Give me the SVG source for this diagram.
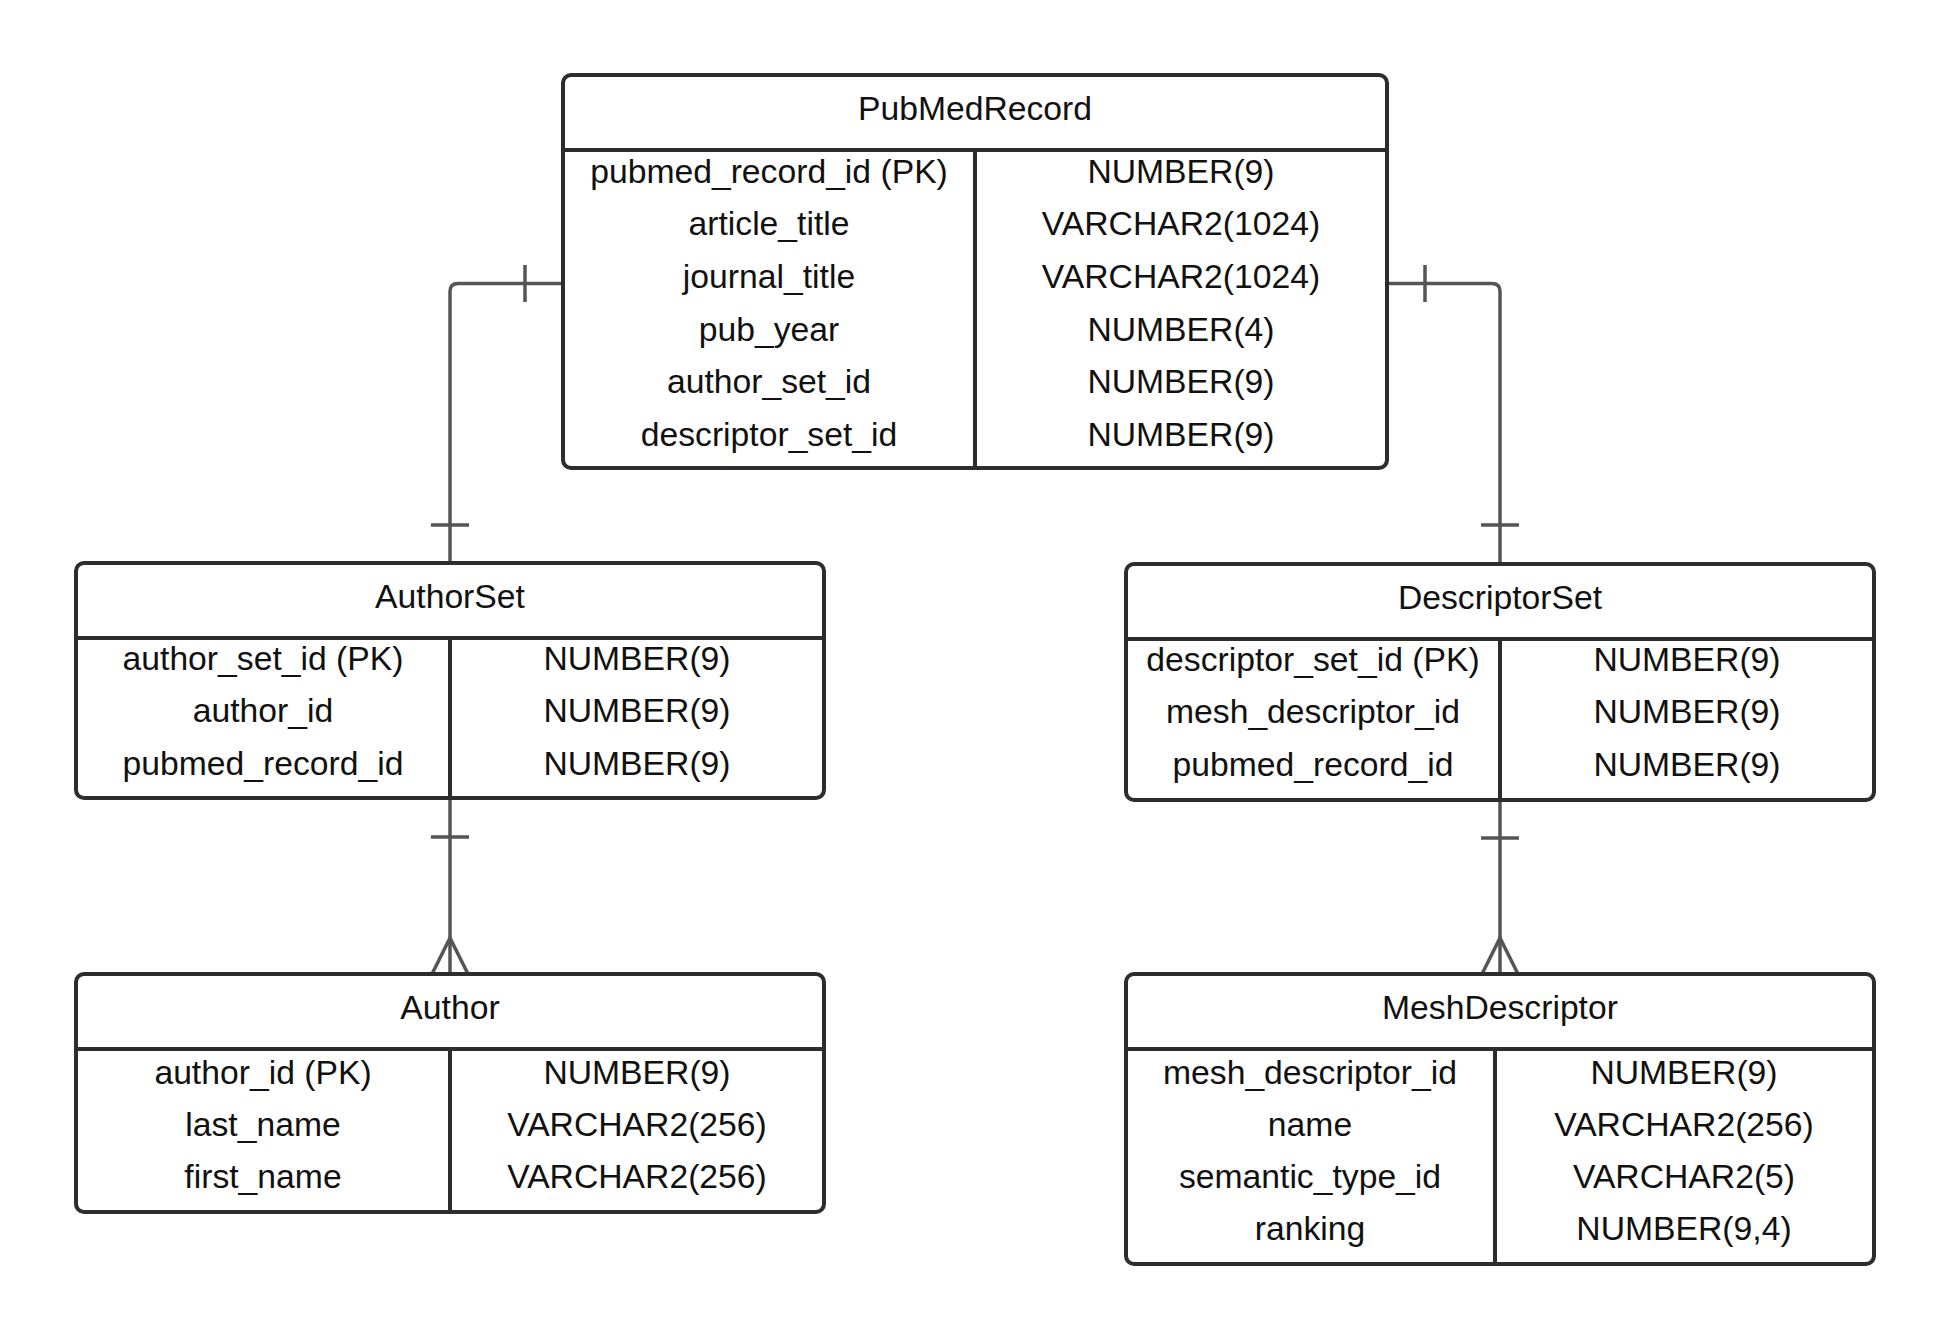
<svg xmlns="http://www.w3.org/2000/svg" width="1950" height="1341" viewBox="0 0 1950 1341">
<style>
.box{fill:#fff;stroke:#2d2d2d;stroke-width:4}
.ln{stroke:#2d2d2d;stroke-width:4;fill:none}
.t{font-family:"Liberation Sans",Arial,sans-serif;font-size:33.7px;fill:#111;text-anchor:middle}
.c{stroke:#555;stroke-width:3.5;fill:none}
</style>
<rect width="1950" height="1341" fill="#fff"/>
<g id="connectors">
  <path class="c" d="M563 283.5 H458 Q450 283.5 450 291.5 V563"/>
  <line class="c" x1="525" y1="265" x2="525" y2="302"/>
  <line class="c" x1="431" y1="525" x2="469" y2="525"/>
  <path class="c" d="M1387 283.5 H1492 Q1500 283.5 1500 291.5 V563"/>
  <line class="c" x1="1425" y1="265" x2="1425" y2="302"/>
  <line class="c" x1="1481" y1="525" x2="1519" y2="525"/>
  <line class="c" x1="450" y1="798" x2="450" y2="974"/>
  <line class="c" x1="431" y1="837" x2="469" y2="837"/>
  <path class="c" d="M432 974 L450 938 L468 974"/>
  <line class="c" x1="1500" y1="800" x2="1500" y2="974"/>
  <line class="c" x1="1481" y1="838" x2="1519" y2="838"/>
  <path class="c" d="M1482 974 L1500 938 L1518 974"/>
</g>
<g id="PubMedRecord">
  <rect class="box" x="563" y="75" width="824" height="393" rx="8"/>
  <line class="ln" x1="563" y1="150" x2="1387" y2="150"/>
  <line class="ln" x1="975" y1="150" x2="975" y2="468"/>
  <text class="t" x="975" y="120">PubMedRecord</text>
  <text class="t" x="769" y="182.5">pubmed_record_id (PK)</text>
  <text class="t" x="769" y="235">article_title</text>
  <text class="t" x="769" y="288">journal_title</text>
  <text class="t" x="769" y="340.5">pub_year</text>
  <text class="t" x="769" y="393">author_set_id</text>
  <text class="t" x="769" y="445.5">descriptor_set_id</text>
  <text class="t" x="1181" y="182.5">NUMBER(9)</text>
  <text class="t" x="1181" y="235">VARCHAR2(1024)</text>
  <text class="t" x="1181" y="288">VARCHAR2(1024)</text>
  <text class="t" x="1181" y="340.5">NUMBER(4)</text>
  <text class="t" x="1181" y="393">NUMBER(9)</text>
  <text class="t" x="1181" y="445.5">NUMBER(9)</text>
</g>
<g id="AuthorSet">
  <rect class="box" x="76" y="563" width="748" height="235" rx="8"/>
  <line class="ln" x1="76" y1="638" x2="824" y2="638"/>
  <line class="ln" x1="450" y1="638" x2="450" y2="798"/>
  <text class="t" x="450" y="607.5">AuthorSet</text>
  <text class="t" x="263" y="669.5">author_set_id (PK)</text>
  <text class="t" x="263" y="722">author_id</text>
  <text class="t" x="263" y="774.5">pubmed_record_id</text>
  <text class="t" x="637" y="669.5">NUMBER(9)</text>
  <text class="t" x="637" y="722">NUMBER(9)</text>
  <text class="t" x="637" y="774.5">NUMBER(9)</text>
</g>
<g id="DescriptorSet">
  <rect class="box" x="1126" y="564" width="748" height="236" rx="8"/>
  <line class="ln" x1="1126" y1="639" x2="1874" y2="639"/>
  <line class="ln" x1="1500" y1="639" x2="1500" y2="800"/>
  <text class="t" x="1500" y="608.5">DescriptorSet</text>
  <text class="t" x="1313" y="670.5">descriptor_set_id (PK)</text>
  <text class="t" x="1313" y="723">mesh_descriptor_id</text>
  <text class="t" x="1313" y="775.5">pubmed_record_id</text>
  <text class="t" x="1687" y="670.5">NUMBER(9)</text>
  <text class="t" x="1687" y="723">NUMBER(9)</text>
  <text class="t" x="1687" y="775.5">NUMBER(9)</text>
</g>
<g id="Author">
  <rect class="box" x="76" y="974" width="748" height="238" rx="8"/>
  <line class="ln" x1="76" y1="1049" x2="824" y2="1049"/>
  <line class="ln" x1="450" y1="1049" x2="450" y2="1212"/>
  <text class="t" x="450" y="1019">Author</text>
  <text class="t" x="263" y="1083.5">author_id (PK)</text>
  <text class="t" x="263" y="1135.5">last_name</text>
  <text class="t" x="263" y="1188">first_name</text>
  <text class="t" x="637" y="1083.5">NUMBER(9)</text>
  <text class="t" x="637" y="1135.5">VARCHAR2(256)</text>
  <text class="t" x="637" y="1188">VARCHAR2(256)</text>
</g>
<g id="MeshDescriptor">
  <rect class="box" x="1126" y="974" width="748" height="290" rx="8"/>
  <line class="ln" x1="1126" y1="1049" x2="1874" y2="1049"/>
  <line class="ln" x1="1495" y1="1049" x2="1495" y2="1264"/>
  <text class="t" x="1500" y="1019">MeshDescriptor</text>
  <text class="t" x="1310" y="1083.5">mesh_descriptor_id</text>
  <text class="t" x="1310" y="1135.5">name</text>
  <text class="t" x="1310" y="1188">semantic_type_id</text>
  <text class="t" x="1310" y="1239.5">ranking</text>
  <text class="t" x="1684" y="1083.5">NUMBER(9)</text>
  <text class="t" x="1684" y="1135.5">VARCHAR2(256)</text>
  <text class="t" x="1684" y="1188">VARCHAR2(5)</text>
  <text class="t" x="1684" y="1239.5">NUMBER(9,4)</text>
</g>
</svg>
